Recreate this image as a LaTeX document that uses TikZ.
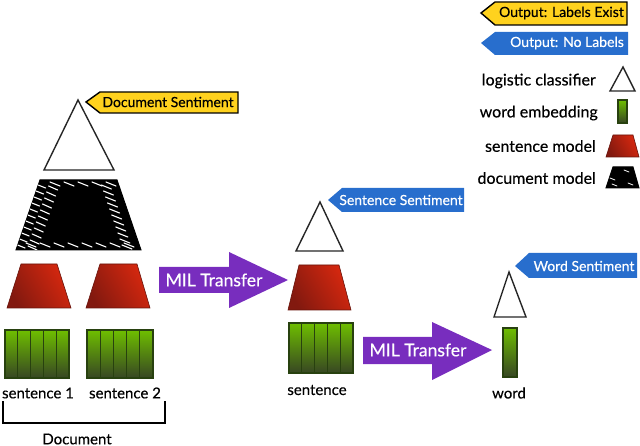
\documentclass[tikz,border=0pt]{standalone}
\usepackage{fontspec}
\setmainfont{Lato}[FakeBold=0.35]
\definecolor{tagyellow}{RGB}{255,210,30}
\definecolor{tagblue}{RGB}{40,110,205}
\definecolor{milpurple}{RGB}{120,45,190}
\definecolor{reddark}{RGB}{130,25,15}
\definecolor{redbright}{RGB}{215,40,15}
\definecolor{greenbright}{RGB}{110,190,0}
\definecolor{greendark}{RGB}{55,70,35}
\definecolor{greenborder}{RGB}{40,65,15}
\tikzset{
  tri/.style={draw=black!85, line width=1.4pt, fill=white},
  sentmodel/.style={draw=reddark!80!black, line width=0.6pt, left color=reddark, right color=redbright, shading angle=120},
  wordbar/.style={draw=greenborder, line width=1.2pt, top color=greenbright, bottom color=greendark},
  blockborder/.style={draw=greenborder, line width=1.4pt},
  docmodel/.style={fill=black, draw=black, line width=1pt},
  hatch/.style={draw=white, line width=1.1pt, line cap=round},
  yellowtag/.style={fill=tagyellow, draw=black, line width=1.4pt},
  bluetag/.style={fill=tagblue},
  milarrow/.style={fill=milpurple},
  tagtxt/.style={inner sep=0pt, font=\fontsize{14}{16}\selectfont},
  lbl/.style={inner sep=0pt, font=\fontsize{15}{17}\selectfont},
  lgd/.style={inner sep=0pt, anchor=east, font=\fontsize{16}{18}\selectfont},
  miltxt/.style={inner sep=0pt, text=white, font=\fontsize{17.5}{19}\selectfont},
}
\newcommand{\gblock}[4]{%
  \pgfmathsetmacro{\bw}{(#3-#1)/5}
  \foreach \i in {0,...,4}{
    \draw[wordbar] ({#1+\i*\bw},#2) rectangle ({#1+(\i+1)*\bw},#4);
  }
  \draw[blockborder] (#1,#2) rectangle (#3,#4);
}
\begin{document}
\begin{tikzpicture}[x=1pt,y=-1pt]
\useasboundingbox (0,0) rectangle (640,446);

% ---------- Legend ----------
\draw[yellowtag] (481,13) -- (495,2) -- (627,2) -- (627,25) -- (495,25) -- cycle;
\node[tagtxt, anchor=east] (lgyel) at (624,13) {Output: Labels Exist};
\fill[bluetag] (481,43) -- (495,32) -- (628,32) -- (628,55) -- (495,55) -- cycle;
\node[tagtxt, anchor=east, text=white] (lgblue) at (624,43) {Output: No Labels};

\node[lgd] (lgtri) at (596,81) {logistic classifier};
\draw[tri] (623,67) -- (635,91) -- (610,91) -- cycle;
\node[lgd] (lgword) at (598,113) {word embedding};
\draw[wordbar] (618,100) rectangle (627,123);
\node[lgd] (lgsent) at (596,146) {sentence model};
\draw[sentmodel] (613,135) -- (633,135) -- (639,157) -- (606,157) -- cycle;
\node[lgd] (lgdoc) at (596,178) {document model};
\draw[docmodel] (613,167) -- (633,167) -- (639,188) -- (606,188) -- cycle;
\begin{scope}
  \clip (613,167) -- (633,167) -- (639,188) -- (606,188) -- cycle;
  \draw[hatch, line width=0.8pt] (610,178) -- ++(5,2);
  \draw[hatch, line width=0.8pt] (612,184) -- ++(5,2);
  \draw[hatch, line width=0.8pt] (624,170) -- ++(5,2);
  \draw[hatch, line width=0.8pt] (628,183) -- ++(5,2);
\end{scope}

% ---------- Document column ----------
\draw[yellowtag] (86,102) -- (100,92) -- (238,92) -- (238,113) -- (100,113) -- cycle;
\node[tagtxt] (docsent) at (168,102) {Document Sentiment};
\draw[tri] (78,100) -- (114,170) -- (44,170) -- cycle;

\draw[docmodel] (40,180) -- (117,180) -- (141,250) -- (16,250) -- cycle;
\begin{scope}
  \clip (40,180) -- (117,180) -- (141,250) -- (16,250) -- cycle;
  \foreach \yy in {184,190,...,248}{
    \pgfmathsetmacro{\xl}{40-(\yy-180)*24/70}
    \pgfmathsetmacro{\xr}{117+(\yy-180)*24/70}
    \draw[hatch] (\xl-3,\yy) -- ++(10,4);
    \draw[hatch] (\xl+10,\yy+2) -- ++(9,4);
    \draw[hatch] (\xr-17,\yy+1) -- ++(10,4);
  }
  \foreach \xx in {50,64,...,110}{ \draw[hatch] (\xx,182) -- ++(10,4); }
  \foreach \xx in {26,40,...,136}{ \draw[hatch] (\xx,243) -- ++(10,4); }
\end{scope}

\draw[sentmodel] (21,264) -- (57,264) -- (71,308) -- (7,308) -- cycle;
\draw[sentmodel] (100,264) -- (137,264) -- (150,308) -- (86,308) -- cycle;

\gblock{5}{330}{69}{378}
\gblock{87}{330}{153}{378}

\node[lbl] (s1) at (38,393) {sentence 1};
\node[lbl] (s2) at (125,393) {sentence 2};
\draw[line width=1.4pt] (3,401) -- (3,423) -- (165,423) -- (165,401);
\node[lbl] (doc) at (77,439) {Document};

% ---------- MIL arrow 1 ----------
\fill[milarrow] (159,267) -- (229,267) -- (229,252) -- (288,280) -- (229,308) -- (229,293) -- (159,293) -- cycle;
\node[miltxt] (mil1) at (214,280) {MIL Transfer};

% ---------- Sentence column ----------
\fill[bluetag] (328,200) -- (342,188) -- (464,188) -- (464,212) -- (342,212) -- cycle;
\node[tagtxt, text=white] (sentsent) at (401,200) {Sentence Sentiment};
\draw[tri] (320,202) -- (343,251) -- (296,251) -- cycle;
\draw[sentmodel] (299,265) -- (339,265) -- (351,310) -- (288,310) -- cycle;
\gblock{289}{323}{353}{373}
\node[lbl] (s3) at (317,390) {sentence};

% ---------- MIL arrow 2 ----------
\fill[milarrow] (363,337) -- (432,337) -- (432,322) -- (492,350) -- (432,380) -- (432,364) -- (363,364) -- cycle;
\node[miltxt] (mil2) at (418,350) {MIL Transfer};

% ---------- Word column ----------
\fill[bluetag] (515,266) -- (529,253) -- (637,253) -- (637,278) -- (529,278) -- cycle;
\node[tagtxt, text=white] (wordsent) at (584,266) {Word Sentiment};
\draw[tri] (509,272) -- (526,317) -- (494,317) -- cycle;
\draw[wordbar] (503,328) rectangle (517,377);
\node[lbl] (w) at (509,393) {word};
\end{tikzpicture}
\end{document}
